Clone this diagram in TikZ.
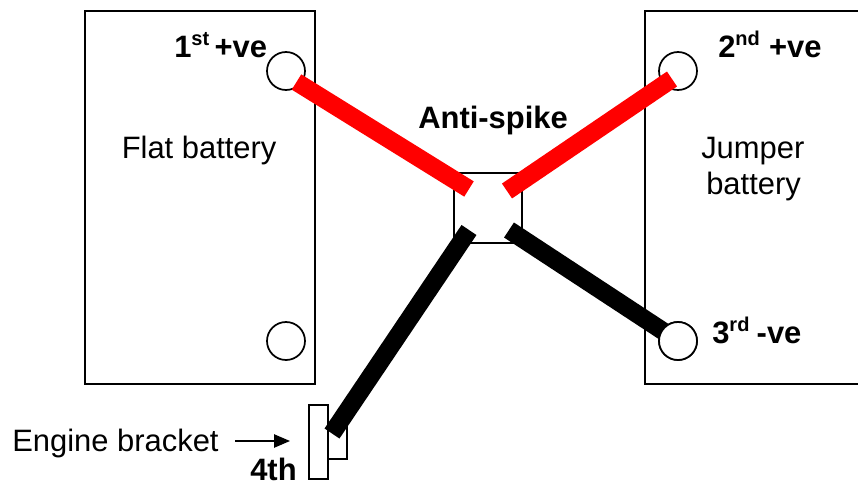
\documentclass[tikz,border=0pt]{standalone}
\usepackage{fontspec}
\setmainfont{Liberation Sans}
\usetikzlibrary{arrows.meta}
\newcommand{\supr}[1]{\raisebox{0.37em}{\fontsize{15}{15}\selectfont #1}}
\tikzset{
  x=0.75pt,y=-0.75pt,
  box/.style={draw=black,line width=1.5pt,fill=white},
  post/.style={circle,draw=black,line width=1.3pt,fill=white,minimum size=28.5pt,inner sep=0pt},
  redlead/.style={draw=red,line width=13.5pt},
  blacklead/.style={draw=black,line width=13.5pt},
  plain/.style={font=\fontsize{23.2}{27}\selectfont,inner sep=0pt,anchor=base west},
  bold/.style={plain,font=\fontsize{23.2}{27}\selectfont\bfseries},
}
\begin{document}
\begin{tikzpicture}
\clip (0,0) rectangle (858,486);
\useasboundingbox (0,0) rectangle (858,486);
\draw[box] (85,11) rectangle (315,384);
\draw[box] (645,11) rectangle (880,384);
\node[box,minimum width=51pt,minimum height=52.5pt,inner sep=0pt] (spike) at (488,208) {};
\node[box,minimum width=14.25pt,minimum height=25.5pt,inner sep=0pt] (foot) at (337.5,442) {};
\node[box,minimum width=14.25pt,minimum height=55.5pt,inner sep=0pt] (bracket) at (318.5,442) {};
\coordinate (r1a) at (296.5,82); \coordinate (r1b) at (469,189);
\coordinate (r2a) at (672,79);   \coordinate (r2b) at (507,191);
\coordinate (k3a) at (672,337);  \coordinate (k3b) at (509,230);
\coordinate (k4a) at (332,433.5);\coordinate (k4b) at (469,230);
\node[post] (p1) at (286,71) {};
\node[post] (p2) at (678,71) {};
\node[post] (p3) at (678,341) {};
\node[post] (p4) at (286,341) {};
\draw[redlead] (r1a) -- (r1b);
\draw[redlead] (r2a) -- (r2b);
\draw[blacklead] (k3a) -- (k3b);
\draw[blacklead] (k4a) -- (k4b);
\node[post] at (p3) {};
\node[plain] (flat) at (121.5,158) {Flat battery};
\node[plain] (jump1) at (701,158) {Jumper};
\node[plain] (jump2) at (706,194) {battery};
\node[bold] (l1) at (174,57) {1\supr{st}\hspace{-2.5pt} +ve};
\node[bold] (l2) at (718,57) {2\supr{nd}\hspace{0.5pt} +ve};
\node[bold] (l3) at (712,343) {3\supr{rd}\hspace{-1pt} -ve};
\node[bold] (anti) at (418,128) {Anti-spike};
\node[plain] (eng) at (12,451) {Engine bracket};
\node[bold] (fourth) at (250,480) {4th};
\coordinate (arrs) at (235,441);
\coordinate (arre) at (290,441);
\draw[line width=1.1pt,-{Triangle[length=12pt,width=10pt]}] (arrs) -- (arre);
\end{tikzpicture}
\end{document}
